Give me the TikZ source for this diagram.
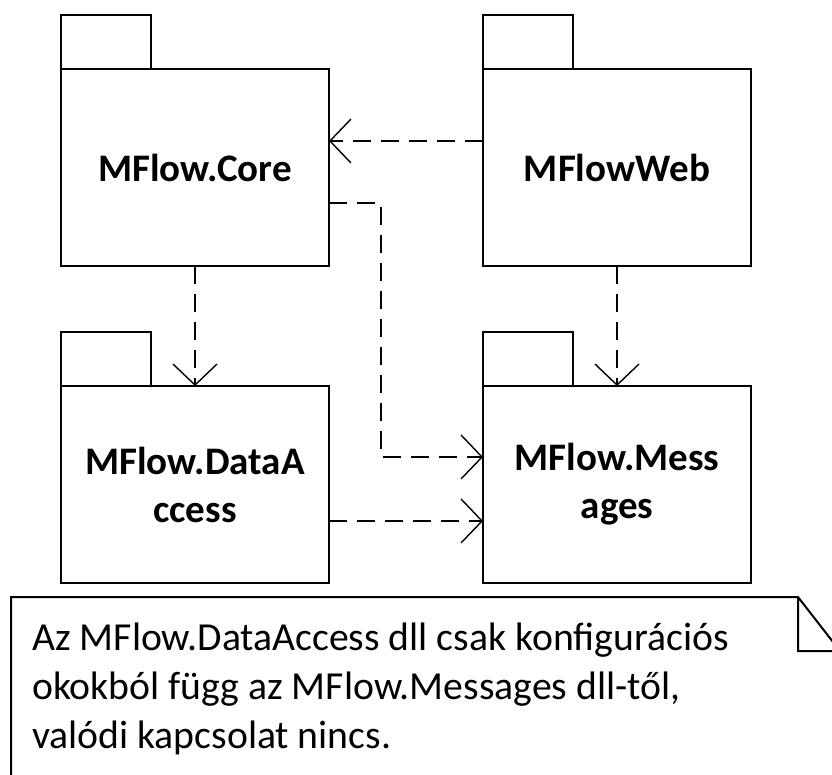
\documentclass[tikz,border=0pt]{standalone}
\usepackage{fontspec}
\setmainfont{Carlito}
\usetikzlibrary{arrows.meta,calc}
\begin{document}
\begin{tikzpicture}[x=1pt,y=1pt,
  pkg/.style={draw, line width=2.8pt, minimum width=268pt, minimum height=197pt,
    inner sep=0pt, outer sep=0pt, align=center, text width=262pt,
    font=\bfseries\fontsize{39}{48}\selectfont},
  tabline/.style={draw, line width=2.8pt, line join=miter},
  dep/.style={line width=2pt, dash pattern=on 18pt off 10pt,
    -{Straight Barb[length=21pt,width=44pt,line width=1.4pt]}},
  notebox/.style={draw, line width=2pt, line join=miter},
  notetext/.style={anchor=base west, inner sep=0pt, align=left,
    font=\fontsize{39.7}{49}\selectfont}
]
\clip (0,0) rectangle (832,774);
\fill[white] (0,0) rectangle (832,774);

% packages
\node[pkg] (core) at (195,606.5) {MFlow.Core};
\node[pkg] (web)  at (617,606.5) {MFlowWeb};
\node[pkg] (da)   at (195,289.5) {MFlow.DataA\\ccess};
\node[pkg] (msg)  at (617,289.5) {MFlow.Mess\\ages};

% tabs
\foreach \p in {core,web,da,msg}{
  \draw[tabline] (\p.north west) -- ++(0,54) -- ++(90,0) -- ++(0,-54);
}

% dependencies
\draw[dep] ([yshift=26.5pt]web.west) -- ([yshift=26.5pt]core.east);
\draw[dep] (core.south) -- (da.north);
\draw[dep] (web.south) -- (msg.north);
\draw[dep] ([yshift=-35.5pt]core.east) -- ++(52,0) |- ([yshift=27.5pt]msg.west);
\draw[dep] ([yshift=-36.5pt]da.east) -- ([yshift=-36.5pt]msg.west);

% note
\draw[notebox] (11,-10) -- (11,177) -- (798,177) -- (840,123) -- (798,123) -- (798,177);
\draw[notebox] (840,123) -- (840,-10);
\node[notetext] (note) at (32,26) {Az MFlow.DataAccess dll csak konfigurációs\\okokból függ az MFlow.Messages dll-től,\\valódi kapcsolat nincs.};
\end{tikzpicture}
\end{document}
